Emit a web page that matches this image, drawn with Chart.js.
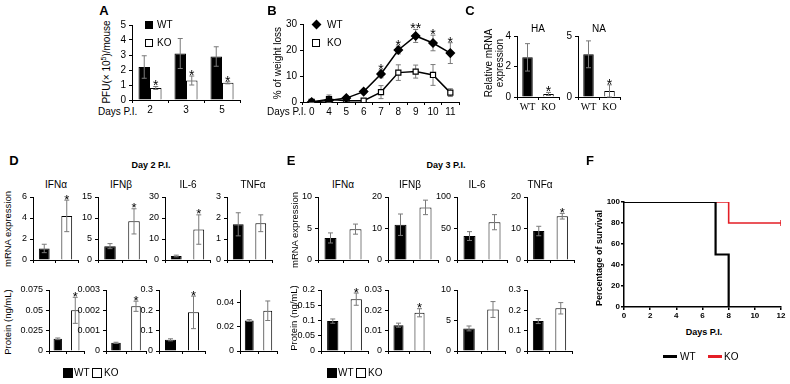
<!DOCTYPE html>
<html><head><meta charset="utf-8">
<script src="https://cdn.jsdelivr.net/npm/chart.js@4.4.1/dist/chart.umd.min.js"></script>
<style>
html,body{margin:0;padding:0;background:#fff;}
#root{position:relative;width:790px;height:384px;overflow:hidden;font-family:"Liberation Sans",Arial,sans-serif;color:#000;}
#root canvas{position:absolute;}
.t{position:absolute;white-space:nowrap;line-height:1;}
.sq{position:absolute;width:8px;height:8px;box-sizing:border-box;border:1px solid #000;}
</style></head><body><div id="root"></div>
<script>
// ---------------- DATA ----------------
// Panel A
const daysA = ['2', '3', '5'];
const pfuWT = [2.2, 3.1, 2.9];
const pfuWTErr = [0.75, 1.0, 0.65];
const pfuKO = [0.8, 1.3, 1.15];
const pfuKOErr = [0.1, 0.3, 0.07];
const pfuStars = ['*', '*', '*'];
// Panel B
const daysB = ['0', '4', '5', '6', '7', '8', '9', '10', '11'];
const lossWT = [0, 0.6, 1.5, 4, 10.8, 20, 25.4, 22.7, 18.8];
const lossWTErr = [0.3, 0.5, 0.6, 0.8, 1.5, 1.5, 2.5, 3, 4];
const lossKO = [0, 1.1, 0.5, 0.5, 3.8, 11.3, 11.7, 10.4, 3.6];
const lossKOErr = [0.3, 1.6, 0.3, 0.3, 2.5, 3, 2.5, 4, 1.5];
const lossStars = ['', '', '', '', '*', '*', '**', '*', '*'];
// Panel C
const genesC = ['HA', 'NA'];
const groupLabels = ['WT', 'KO'];
const relWT = [2.6, 3.5];
const relWTErr = [0.9, 1.1];
const relKO = [0.2, 0.5];
const relKOErr = [0.1, 0.5];
const relStars = ['*', '*'];
const relMax = [4, 5];
const relStep = [2, 5];
// Panels D/E
const cytokines = ['IFNα', 'IFNβ', 'IL-6', 'TNFα'];
const d2mrnaWT = [1.1, 3.3, 1.9, 1.7];
const d2mrnaWTErr = [0.4, 0.6, 0.4, 0.55];
const d2mrnaKO = [4.2, 9.2, 14.5, 1.75];
const d2mrnaKOErr = [1.5, 3.0, 7.0, 0.4];
const d2mrnaStars = ['*', '*', '*', ''];
const d2mrnaMax = [6, 15, 30, 3];
const d2mrnaStep = [2, 5, 10, 1];
const d2protWT = [0.015, 0.0004, 0.055, 0.025];
const d2protWTErr = [0.001, 0.00003, 0.005, 0.0008];
const d2protKO = [0.05, 0.0022, 0.19, 0.033];
const d2protKOErr = [0.016, 0.00025, 0.08, 0.008];
const d2protStars = ['*', '*', '*', ''];
const d2protMax = [0.075, 0.003, 0.3, 0.05];
const d2protStep = [0.025, 0.001, 0.1, 0.01];
const d3mrnaWT = [3.5, 11.2, 38, 9.2];
const d3mrnaWTErr = [0.8, 3.4, 7, 1.5];
const d3mrnaKO = [4.9, 16.7, 60, 13.9];
const d3mrnaKOErr = [0.8, 2.3, 12, 0.9];
const d3mrnaStars = ['', '', '', '*'];
const d3mrnaMax = [10, 20, 100, 20];
const d3mrnaStep = [5, 10, 50, 10];
const d3protWT = [0.098, 0.0127, 3.7, 0.147];
const d3protWTErr = [0.007, 0.001, 0.4, 0.012];
const d3protKO = [0.17, 0.0188, 6.8, 0.21];
const d3protKOErr = [0.02, 0.002, 1.3, 0.028];
const d3protStars = ['*', '*', '', ''];
const d3protMax = [0.2, 0.03, 10, 0.3];
const d3protStep = [0.05, 0.01, 5, 0.1];
// Panel F
const survDaysWT = [0, 7, 8];
const survWT = [100, 50, 0];
const survDaysKO = [0, 8, 12];
const survKO = [100, 80, 80];
const survTicks = [0, 2, 4, 6, 8, 10, 12];

// ---------------- HELPERS ----------------
const FONT = '"Liberation Sans", Arial, sans-serif';
Chart.defaults.font.family = FONT;
Chart.defaults.color = '#000';
const root = document.getElementById('root');

function place(left, top, w, h) {
  const c = document.createElement('canvas');
  c.width = w; c.height = h;
  c.style.left = left + 'px'; c.style.top = top + 'px';
  c.style.width = w + 'px'; c.style.height = h + 'px';
  root.appendChild(c);
  return c;
}
function txt(html, cx, cy, size, o = {}) {
  const d = document.createElement('div');
  d.className = 't';
  d.innerHTML = html;
  d.style.left = cx + 'px'; d.style.top = cy + 'px'; d.style.fontSize = size + 'px';
  if (o.bold) d.style.fontWeight = 'bold';
  if (o.serif) d.style.fontFamily = '"Liberation Serif", "Times New Roman", serif';
  if (o.lh) d.style.lineHeight = o.lh;
  if (o.center) d.style.textAlign = 'center';
  const tr = o.left ? 'translate(0,-50%)' : 'translate(-50%,-50%)';
  d.style.transform = tr + (o.rot ? ' rotate(-90deg)' : '');
  root.appendChild(d);
  return d;
}
function box(x, y, fill, w = 8, h = 8, extra = '') {
  const d = document.createElement('div');
  d.className = 'sq';
  d.style.left = x + 'px'; d.style.top = y + 'px';
  d.style.width = w + 'px'; d.style.height = h + 'px';
  d.style.background = fill;
  d.style.cssText += extra;
  root.appendChild(d);
  return d;
}
const fmt = v => String(+(+v).toFixed(6));

function drawErrors(chart, starsOnly) {
  const ctx = chart.ctx, ys = chart.scales.y;
  const o = chart.options.plugins.err || {};
  chart.data.datasets.forEach((ds, di) => {
    const meta = chart.getDatasetMeta(di);
    meta.data.forEach((el, i) => {
      const v = ds.data[i];
      const e = ds.errors ? ds.errors[i] : null;
      let yt = el.y;
      if (e != null) {
        yt = ys.getPixelForValue(v + e);
        const yb = ys.getPixelForValue(Math.max(v - e, ys.min));
        if (!starsOnly) {
          const cap = o.cap || 2.5;
          ctx.save();
          ctx.strokeStyle = o.color || '#7a7a7a';
          ctx.lineWidth = 1;
          ctx.beginPath();
          ctx.moveTo(el.x, yt); ctx.lineTo(el.x, yb);
          ctx.moveTo(el.x - cap, yt); ctx.lineTo(el.x + cap, yt);
          ctx.moveTo(el.x - cap, yb); ctx.lineTo(el.x + cap, yb);
          ctx.stroke();
          ctx.restore();
        }
      }
      if (starsOnly && ds.stars && ds.stars[i]) {
        const fs = o.starSize || 14;
        ctx.save();
        ctx.fillStyle = '#000';
        ctx.font = fs + 'px ' + FONT;
        ctx.textAlign = 'center';
        ctx.textBaseline = 'alphabetic';
        ctx.fillText(ds.stars[i], el.x, yt + fs * 0.42 - 2);
        ctx.restore();
      }
    });
  });
}
const errPlugin = {
  id: 'err',
  beforeDatasetsDraw(chart) { const o = chart.options.plugins.err || {}; if (o.before) drawErrors(chart, false); },
  afterDatasetsDraw(chart) {
    const o = chart.options.plugins.err || {};
    if (!o.before) drawErrors(chart, false);
    drawErrors(chart, true);
  }
};

function barChart(area, labels, datasets, yMax, yStep, o = {}) {
  const YW = 40, PT = o.pt || 24, PR = 6, XH = o.xh || 14;
  const w = area.x1 - area.x0 + YW + PR, h = area.y1 - area.y0 + PT + XH;
  const c = place(area.x0 - YW, area.y0 - PT, w, h);
  const fs = o.fs || 9;
  return new Chart(c, {
    type: 'bar',
    data: { labels, datasets },
    options: {
      responsive: false, animation: false, events: [],
      layout: { padding: { top: PT, right: PR, left: 0, bottom: 0 } },
      plugins: { legend: { display: false }, tooltip: { enabled: false }, err: { starSize: o.starSize || 14 } },
      scales: {
        x: {
          grid: { display: true, drawOnChartArea: false, color: '#000', tickLength: 3, offset: true },
          border: { display: true, color: '#000', width: 1 },
          ticks: { display: !!o.xTicks, font: o.xFont || { size: fs }, color: '#000', padding: 1, maxRotation: 0 },
          afterFit: s => { s.height = XH; }
        },
        y: {
          min: 0, max: yMax,
          grid: { display: true, drawOnChartArea: false, color: '#000', tickLength: 3 },
          border: { display: true, color: '#000', width: 1 },
          ticks: { stepSize: yStep, callback: fmt, font: { size: fs }, color: '#000', padding: 3 },
          afterFit: s => { s.width = YW; }
        }
      }
    },
    plugins: [errPlugin]
  });
}

function pairDataset(wt, wtE, ko, koE, stars, bp) {
  return [{
    data: [wt, ko],
    errors: [wtE, koE],
    stars: ['', stars],
    backgroundColor: ['#000', '#fff'],
    borderColor: '#000',
    borderWidth: 1,
    borderSkipped: 'start',
    categoryPercentage: 1,
    barPercentage: bp || 0.48
  }];
}

// ---------------- PANEL A ----------------
txt('A', 104, 10, 13, { bold: true });
txt('PFU(× 10<sup style="font-size:7px;vertical-align:4px">5</sup>)/mouse', 106, 62, 10, { rot: true });
txt('Days P.I.', 98, 112, 10, { left: true });
barChart({ x0: 132, x1: 240, y0: 25, y1: 100 }, daysA, [
  { data: pfuWT, errors: pfuWTErr, backgroundColor: '#000', borderColor: '#000', borderWidth: 1, categoryPercentage: 0.64, barPercentage: 1 },
  { data: pfuKO, errors: pfuKOErr, stars: pfuStars, backgroundColor: '#fff', borderColor: '#000', borderWidth: 1, borderSkipped: 'start', categoryPercentage: 0.64, barPercentage: 1 }
], 5, 1, { xTicks: true, fs: 10, pt: 16 });
box(145, 21, '#000');
txt('WT', 157, 25, 10, { left: true });
box(145, 39, '#fff');
txt('KO', 157, 43, 10, { left: true });

// ---------------- PANEL B ----------------
txt('B', 272, 10, 13, { bold: true });
txt('% of weight loss', 278, 63, 10, { rot: true });
txt('Days P.I.', 267, 112, 10, { left: true });
(function () {
  const area = { x0: 303, x1: 459, y0: 24, y1: 102 };
  const YW = 30, PT = 22, PR = 6, XH = 14;
  const w = area.x1 - area.x0 + YW + PR, h = area.y1 - area.y0 + PT + XH;
  const c = place(area.x0 - YW, area.y0 - PT, w, h);
  new Chart(c, {
    type: 'line',
    data: {
      labels: daysB,
      datasets: [
        { data: lossWT, errors: lossWTErr, stars: lossStars, borderColor: '#000', borderWidth: 1.5, pointStyle: 'rectRot', pointRadius: 4, pointBackgroundColor: '#000', pointBorderColor: '#000' },
        { data: lossKO, errors: lossKOErr, borderColor: '#000', borderWidth: 1.5, pointStyle: 'rect', pointRadius: 3.6, pointBackgroundColor: '#fff', pointBorderColor: '#000', pointBorderWidth: 1.2 }
      ]
    },
    options: {
      responsive: false, animation: false, events: [],
      layout: { padding: { top: PT, right: PR, left: 0, bottom: 0 } },
      plugins: { legend: { display: false }, tooltip: { enabled: false }, err: { before: true, starSize: 14, cap: 2.5 } },
      scales: {
        x: {
          offset: true,
          grid: { display: true, drawOnChartArea: false, color: '#000', tickLength: 3, offset: true },
          border: { display: true, color: '#000' },
          ticks: { font: { size: 10 }, color: '#000', padding: 1, maxRotation: 0, autoSkip: false },
          afterFit: s => { s.height = XH; }
        },
        y: {
          min: 0, max: 30,
          grid: { display: true, drawOnChartArea: false, color: '#000', tickLength: 3 },
          border: { display: true, color: '#000' },
          ticks: { stepSize: 10, font: { size: 10 }, color: '#000', padding: 3 },
          afterFit: s => { s.width = YW; }
        }
      }
    },
    plugins: [errPlugin]
  });
})();
box(313, 21, '#000', 7, 7, 'transform:rotate(45deg);border:none;');
txt('WT', 327, 25, 10, { left: true });
box(312, 39, '#fff', 8, 8);
txt('KO', 327, 43, 10, { left: true });

// ---------------- PANEL C ----------------
txt('C', 470, 10, 13, { bold: true });
txt('Relative mRNA<br>expression', 494, 63, 10, { rot: true, center: true, lh: '1.1' });
const areasC = [{ x0: 517, x1: 559, y0: 36, y1: 97 }, { x0: 578, x1: 620, y0: 36, y1: 97 }];
genesC.forEach((g, i) => {
  const a = areasC[i];
  txt(g, (a.x0 + a.x1) / 2, 29, 10);
  barChart(a, groupLabels, pairDataset(relWT[i], relWTErr[i], relKO[i], relKOErr[i], relStars[i], 0.5),
    relMax[i], relStep[i], { xTicks: true, fs: 10, xFont: { size: 10, family: '"Liberation Serif", serif' }, pt: 12 });
});

// ---------------- PANELS D / E ----------------
const layoutDE = {
  D: {
    letter: [14, 160], head: [151, 165], headText: 'Day 2 P.I.', titleY: 185, titleX: [56, 121, 188, 253],
    mrnaTitle: [8, 229], protTitle: [8, 322], legend: [63, 373],
    mrna: { y0: 197, y1: 260, xs: [[33, 78], [98, 146], [165, 210], [227, 272]] },
    prot: { y0: 290, y1: 351, xs: [[49, 84], [106, 146], [159, 205], [240, 277]] }
  },
  E: {
    letter: [291, 160], head: [446, 165], headText: 'Day 3 P.I.', titleY: 185, titleX: [343, 410, 477, 540],
    mrnaTitle: [295, 230], protTitle: [294, 318], legend: [327, 373],
    mrna: { y0: 197, y1: 260, xs: [[318, 368], [388, 438], [457, 507], [527, 574]] },
    prot: { y0: 290, y1: 351, xs: [[321, 368], [388, 430], [457, 505], [527, 572]] }
  }
};
const seriesDE = {
  D: {
    mrna: [d2mrnaWT, d2mrnaWTErr, d2mrnaKO, d2mrnaKOErr, d2mrnaStars, d2mrnaMax, d2mrnaStep],
    prot: [d2protWT, d2protWTErr, d2protKO, d2protKOErr, d2protStars, d2protMax, d2protStep]
  },
  E: {
    mrna: [d3mrnaWT, d3mrnaWTErr, d3mrnaKO, d3mrnaKOErr, d3mrnaStars, d3mrnaMax, d3mrnaStep],
    prot: [d3protWT, d3protWTErr, d3protKO, d3protKOErr, d3protStars, d3protMax, d3protStep]
  }
};
['D', 'E'].forEach(p => {
  const L = layoutDE[p], S = seriesDE[p];
  txt(p, L.letter[0], L.letter[1], 13, { bold: true });
  txt(L.headText, L.head[0], L.head[1], 9, { bold: true });
  txt('mRNA expression', L.mrnaTitle[0], L.mrnaTitle[1], 9.5, { rot: true });
  txt('Protein (ng/mL)', L.protTitle[0], L.protTitle[1], 9.5, { rot: true });
  cytokines.forEach((cy, i) => {
    txt(cy, L.titleX[i], L.titleY, 10);
    ['mrna', 'prot'].forEach(row => {
      const [wt, wte, ko, koe, st, mx, stp] = S[row];
      const R = L[row];
      barChart({ x0: R.xs[i][0], x1: R.xs[i][1], y0: R.y0, y1: R.y1 }, groupLabels,
        pairDataset(wt[i], wte[i], ko[i], koe[i], st[i], 0.48), mx[i], stp[i], { fs: 9, pt: 14, starSize: 13 });
    });
  });
  const lx = L.legend[0], ly = L.legend[1];
  box(lx, ly - 5, '#000', 10, 10);
  txt('WT', lx + 11, ly, 10, { left: true });
  box(lx + 29, ly - 5, '#fff', 10, 10);
  txt('KO', lx + 41, ly, 10, { left: true });
});

// ---------------- PANEL F ----------------
txt('F', 590, 160, 13, { bold: true });
txt('Percentage of survival', 599, 258, 9, { rot: true, bold: true });
txt('Days P.I.', 704, 332, 9, { bold: true });
(function () {
  const area = { x0: 624, x1: 781, y0: 202, y1: 307 };
  const YW = 30, PT = 10, PR = 8, XH = 14;
  const w = area.x1 - area.x0 + YW + PR, h = area.y1 - area.y0 + PT + XH;
  const c = place(area.x0 - YW, area.y0 - PT, w, h);
  new Chart(c, {
    type: 'line',
    data: {
      datasets: [
        { data: survDaysWT.map((d, i) => ({ x: d, y: survWT[i] })), borderColor: '#000', borderWidth: 2.2, stepped: 'before', pointRadius: 0 },
        { data: survDaysKO.map((d, i) => ({ x: d, y: survKO[i] })), borderColor: '#e41e26', borderWidth: 1.6, stepped: 'before',
          pointRadius: survDaysKO.map((d, i) => i === survDaysKO.length - 1 ? 3 : 0), pointStyle: 'line', rotation: 90, pointBorderColor: '#e41e26', pointBorderWidth: 1.5 }
      ]
    },
    options: {
      responsive: false, animation: false, events: [],
      layout: { padding: { top: PT, right: PR, left: 0, bottom: 0 } },
      plugins: { legend: { display: false }, tooltip: { enabled: false } },
      scales: {
        x: {
          type: 'linear', min: 0, max: 12,
          afterBuildTicks: s => { s.ticks = survTicks.map(v => ({ value: v })); },
          grid: { display: true, drawOnChartArea: false, color: '#000', tickLength: 3, lineWidth: 1.5 },
          border: { display: true, color: '#000', width: 1.5 },
          ticks: { font: { size: 8, weight: 'bold' }, color: '#000', padding: 1 },
          afterFit: s => { s.height = XH; }
        },
        y: {
          min: 0, max: 100,
          grid: { display: true, drawOnChartArea: false, color: '#000', tickLength: 3, lineWidth: 1.5 },
          border: { display: true, color: '#000', width: 1.5 },
          ticks: { stepSize: 20, font: { size: 8, weight: 'bold' }, color: '#000', padding: 1 },
          afterFit: s => { s.width = YW; }
        }
      }
    }
  });
})();
// legend F
box(663, 355, '#000', 14, 3, 'border:none;');
txt('WT', 680, 357, 10, { left: true });
box(708, 355, '#e41e26', 14, 3, 'border:none;');
txt('KO', 724, 357, 10, { left: true });
</script></body></html>
